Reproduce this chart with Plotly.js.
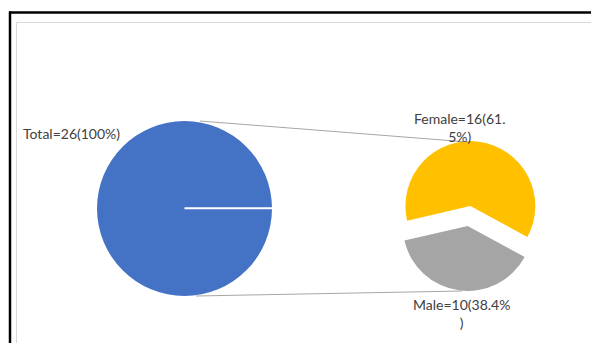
<!DOCTYPE html>
<html>
<head>
<meta charset="utf-8">
<script src="https://cdn.plot.ly/plotly-3.0.1.min.js"></script>
<style>
html,body{margin:0;padding:0;background:#fff;}
#chart{width:591px;height:343px;}
</style>
</head>
<body>
<div id="chart"></div>
<script>
// ---- data ----
const totalName = 'Total';
const totalCount = [26];
const totalPct = '100%';
const genders = ['Female', 'Male'];
const genderCounts = [16, 10];
const genderPct = ['61.5%', '38.4%'];

// ---- helpers ----
const W = 591, H = 343;
const px = x => x / W;
const py = y => 1 - y / H;
function wrapAt(s, n) { return s.length > n ? s.slice(0, n) + '<br>' + s.slice(n) : s; }

const font = {family: 'Lato, "Noto Sans", sans-serif', size: 14, color: '#404040'};

const bigPie = {
  type: 'pie',
  labels: [totalName],
  values: totalCount,
  marker: {colors: ['#4472C4'], line: {width: 0}},
  textinfo: 'none',
  hoverinfo: 'label+value',
  sort: false,
  showlegend: false,
  domain: {x: [px(97), px(272)], y: [py(296), py(121)]}
};

const smallPie = {
  type: 'pie',
  labels: genders,
  values: genderCounts,
  marker: {colors: ['#FFC000', '#A5A5A5'], line: {width: 0}},
  textinfo: 'none',
  hoverinfo: 'label+value+percent',
  sort: false,
  direction: 'clockwise',
  rotation: -103,
  pull: [0.155, 0.155],
  showlegend: false,
  domain: {x: [px(394), px(544)], y: [py(291), py(141)]}
};

const labelText = genders.map((g, i) => wrapAt(`${g}=${genderCounts[i]}(${genderPct[i]})`, 13));

const annotations = [
  {text: `${totalName}=${totalCount[0]}(${totalPct})`, x: px(21), y: py(133), xanchor: 'left', yanchor: 'middle'},
  {text: labelText[0], x: px(460), y: py(127), xanchor: 'center', yanchor: 'middle', align: 'center'},
  {text: labelText[1], x: px(461), y: py(313), xanchor: 'center', yanchor: 'middle', align: 'center'}
].map(a => Object.assign({xref: 'paper', yref: 'paper', showarrow: false, font: font}, a));

const shapes = [
  // outer black frame
  {type: 'line', x0: px(10), x1: px(10), y0: py(11.5), y1: py(343), line: {color: '#000', width: 2.5}},
  {type: 'line', x0: px(9), x1: px(591), y0: py(12.5), y1: py(12.5), line: {color: '#000', width: 2.5}},
  // light chart-area border
  {type: 'line', x0: px(16.5), x1: px(16.5), y0: py(22.5), y1: py(343), line: {color: '#d9d9d9', width: 1}},
  {type: 'line', x0: px(16.5), x1: px(591), y0: py(22.5), y1: py(22.5), line: {color: '#d9d9d9', width: 1}},
  // connector lines
  {type: 'line', x0: px(200), y0: py(121), x1: px(468), y1: py(142), line: {color: '#a6a6a6', width: 1}},
  {type: 'line', x0: px(196), y0: py(296), x1: px(462), y1: py(291), line: {color: '#a6a6a6', width: 1}},
  // slice edge of the full pie
  {type: 'line', x0: px(184.5), y0: py(208.3), x1: px(272), y1: py(208.3), line: {color: '#ffffff', width: 2}, layer: 'above'}
].map(s => Object.assign({xref: 'paper', yref: 'paper'}, s));

Plotly.newPlot('chart', [bigPie, smallPie], {
  width: W, height: H,
  margin: {l: 0, r: 0, t: 0, b: 0},
  paper_bgcolor: '#ffffff',
  plot_bgcolor: '#ffffff',
  showlegend: false,
  annotations: annotations,
  shapes: shapes
}, {displayModeBar: false, staticPlot: true});
</script>
</body>
</html>
